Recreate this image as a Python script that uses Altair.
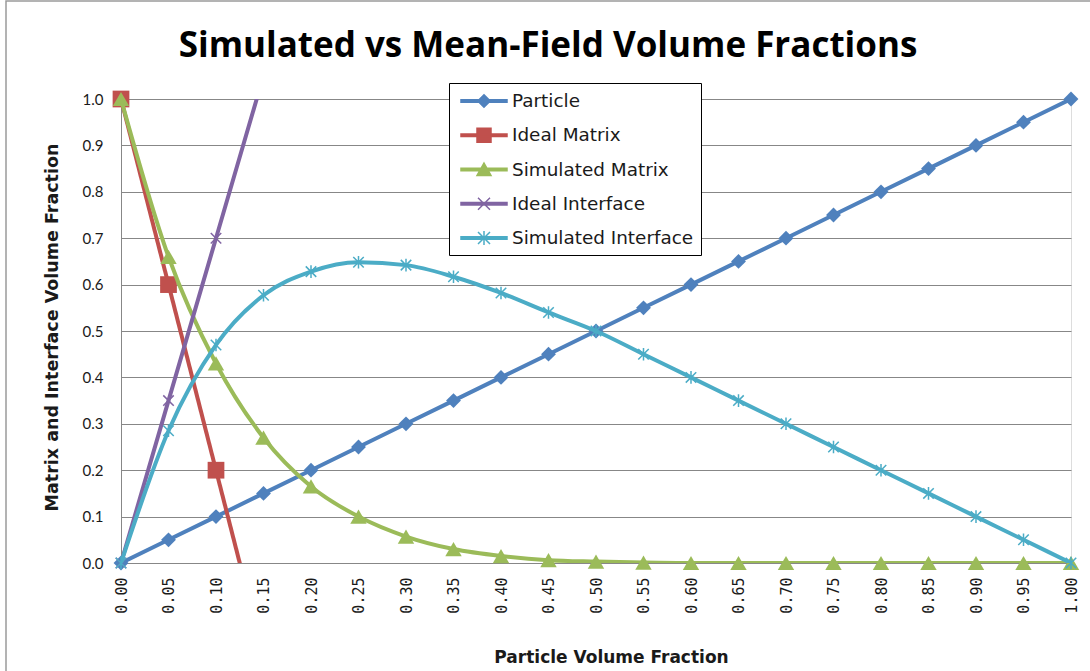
import altair as alt
import pandas as pd

# ---- data ----
x_vals = [0.00, 0.05, 0.10, 0.15, 0.20, 0.25, 0.30, 0.35, 0.40, 0.45, 0.50,
          0.55, 0.60, 0.65, 0.70, 0.75, 0.80, 0.85, 0.90, 0.95, 1.00]
particle = [0.00, 0.05, 0.10, 0.15, 0.20, 0.25, 0.30, 0.35, 0.40, 0.45, 0.50,
            0.55, 0.60, 0.65, 0.70, 0.75, 0.80, 0.85, 0.90, 0.95, 1.00]
simulated_matrix = [1.00, 0.66, 0.43, 0.27, 0.165, 0.10, 0.057, 0.030, 0.015, 0.006, 0.003,
                    0.001, 0.0, 0.0, 0.0, 0.0, 0.0, 0.0, 0.0, 0.0, 0.0]
simulated_interface = [0.00, 0.285, 0.47, 0.577, 0.628, 0.648, 0.642, 0.617, 0.582, 0.54, 0.50,
                       0.45, 0.40, 0.35, 0.30, 0.25, 0.20, 0.15, 0.10, 0.05, 0.00]
ideal_x = [0.00, 0.05, 0.10, 0.15]
ideal_matrix = [1.00, 0.60, 0.20, -0.20]
ideal_interface = [0.00, 0.35, 0.70, 1.05]

y_ticks = [0.0, 0.1, 0.2, 0.3, 0.4, 0.5, 0.6, 0.7, 0.8, 0.9, 1.0]

series_names = ["Particle", "Ideal Matrix", "Simulated Matrix", "Ideal Interface", "Simulated Interface"]
series_colors = ["#4F81BD", "#C0504D", "#9BBB59", "#8064A2", "#4BACC6"]

rows = []
for xv, yv in zip(x_vals, particle):
    rows.append({"x": xv, "y": yv, "series": "Particle"})
for xv, yv in zip(ideal_x, ideal_matrix):
    rows.append({"x": xv, "y": yv, "series": "Ideal Matrix"})
for xv, yv in zip(x_vals, simulated_matrix):
    rows.append({"x": xv, "y": yv, "series": "Simulated Matrix"})
for xv, yv in zip(ideal_x, ideal_interface):
    rows.append({"x": xv, "y": yv, "series": "Ideal Interface"})
for xv, yv in zip(x_vals, simulated_interface):
    rows.append({"x": xv, "y": yv, "series": "Simulated Interface"})
df = pd.DataFrame(rows)

# ---- styling ----
XMARK = "M-1,-1L1,1M-1,1L1,-1"
STAR = "M-1,-1L1,1M-1,1L1,-1M0,-1.2L0,1.2"
marker = {
    "Particle": dict(shape="diamond", filled=True, size=220),
    "Ideal Matrix": dict(shape="square", filled=True, size=280),
    "Simulated Matrix": dict(shape="triangle-up", filled=True, size=270),
    "Ideal Interface": dict(shape=XMARK, filled=False, size=110, strokeWidth=1.5),
    "Simulated Interface": dict(shape=STAR, filled=False, size=110, strokeWidth=1.5),
}
smooth = {"Simulated Matrix": "monotone", "Simulated Interface": "monotone"}

LINE = "M-2.3,-0.12L2.3,-0.12L2.3,0.12L-2.3,0.12Z"
legend_paths = [
    LINE + "M0,-0.62L0.62,0L0,0.62L-0.62,0Z",
    LINE + "M-0.7,-0.7L0.7,-0.7L0.7,0.7L-0.7,0.7Z",
    LINE + "M0,-0.65L0.7,0.6L-0.7,0.6Z",
    LINE + "M-0.6,-0.6L0.6,0.6M-0.6,0.6L0.6,-0.6",
    LINE + "M-0.6,-0.6L0.6,0.6M-0.6,0.6L0.6,-0.6M0,-0.7L0,0.7",
]

x_enc = alt.X(
    "x:Q",
    scale=alt.Scale(domain=[0, 1], nice=False, zero=False),
    axis=alt.Axis(
        values=x_vals, format=".2f", labelAngle=270, labelAlign="right",
        labelBaseline="middle", labelPadding=14, grid=False, ticks=False,
        labelFont="DejaVu Sans Mono", labelFontSize=15, labelColor="#1a1a1a",
        title="Particle Volume Fraction", titleFont="DejaVu Sans", titleFontSize=17,
        titleFontWeight="bold", titleColor="#1a1a1a", titleX=490, titleY=99,
        titleBaseline="alphabetic", titleAlign="center",
        domainColor="#878787", domainWidth=1, labelOverlap=False,
    ),
)
y_enc = alt.Y(
    "y:Q",
    scale=alt.Scale(domain=[0, 1], nice=False, zero=False),
    axis=alt.Axis(
        values=y_ticks, format=".1f", grid=True, gridColor="#878787", gridWidth=1,
        ticks=False, labelPadding=18, labelFont="Lato", labelFontSize=15,
        labelColor="#1a1a1a",
        title="Matrix and Interface Volume Fraction", titleFont="DejaVu Sans",
        titleFontSize=17.5, titleFontWeight="bold", titleColor="#1a1a1a",
        titleAngle=270, titleX=-69, titleY=228, titleAlign="center",
        titleBaseline="middle", domainColor="#878787", domainWidth=1,
    ),
)

base = alt.Chart(df)

# chart-area border (decoration)
border = base.transform_filter(alt.datum.series == "Particle").transform_filter(alt.datum.x == 0).mark_rect(
    fill=None, stroke="#9a9a9a", strokeWidth=1.5, clip=False
).encode(x=alt.value(-115), x2=alt.value(990), y=alt.value(-98), y2=alt.value(600))

layers = [border]
for name, color in zip(series_names, series_colors):
    sub = base.transform_filter(alt.datum.series == name)
    line = sub.mark_line(
        color=color, strokeWidth=4, clip=True, interpolate=smooth.get(name, "linear")
    ).encode(x=x_enc, y=y_enc)
    m = marker[name]
    pkw = dict(shape=m["shape"], filled=m["filled"], size=m["size"], color=color, opacity=1)
    if "strokeWidth" in m:
        pkw["strokeWidth"] = m["strokeWidth"]
    pts = sub.transform_filter((alt.datum.y >= 0) & (alt.datum.y <= 1)).mark_point(**pkw).encode(
        x=x_enc, y=y_enc
    )
    layers += [line, pts]

leg = alt.Legend(
    title=None, orient="none", legendX=328, legendY=-16, padding=7,
    strokeColor="black", fillColor="white", cornerRadius=0,
    symbolSize=400, symbolStrokeWidth=1.5, symbolOffset=17, labelOffset=17,
    rowPadding=13.25, labelFont="DejaVu Sans", labelFontSize=18.4, labelColor="#1a1a1a",
    labelLimit=400,
)
legend_layer = base.mark_point(filled=True, opacity=1, clip=True).encode(
    x=alt.value(-3000), y=alt.value(-3000),
    fill=alt.Fill("series:N", scale=alt.Scale(domain=series_names, range=series_colors), legend=leg),
    stroke=alt.Stroke("series:N", scale=alt.Scale(domain=series_names, range=series_colors), legend=leg),
    shape=alt.Shape("series:N", scale=alt.Scale(domain=series_names, range=legend_paths), legend=leg),
)
layers.append(legend_layer)

chart = alt.layer(*layers).properties(
    width=950, height=464,
    autosize=alt.AutoSizeParams(type="none"),
    padding={"left": 121, "top": 99, "right": 19, "bottom": 108},
    title=alt.TitleParams(
        "Simulated vs Mean-Field Volume Fractions", font="Open Sans", fontSize=35,
        fontWeight="bold", color="black", anchor="middle", frame="group",
        dx=-48, dy=64, offset=0,
    ),
).configure_view(stroke=None).configure(background="white")

chart.save("out.html", embed_options={"renderer": "svg", "actions": False})
